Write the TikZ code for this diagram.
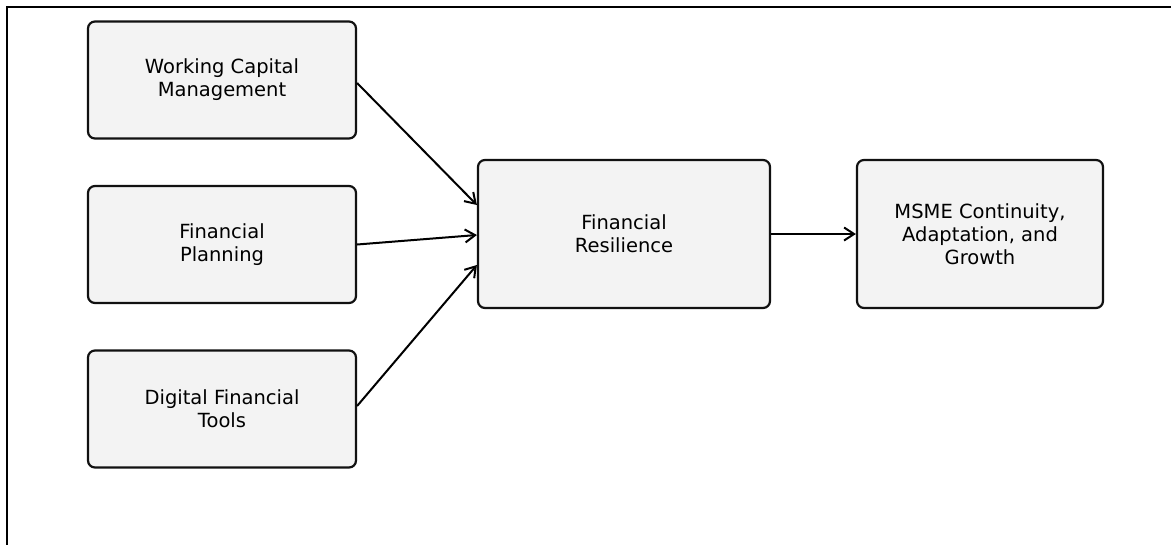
\documentclass[tikz,border=0pt]{standalone}
\usepackage{fontspec}
\setmainfont{DejaVu Sans}
\usetikzlibrary{arrows.meta}
\definecolor{boxfill}{HTML}{F3F3F3}
\definecolor{boxline}{HTML}{111111}
\begin{document}
\begin{tikzpicture}[x=1pt,y=-1pt,
  box/.style={draw=boxline, fill=boxfill, line width=2.2pt, rounded corners=7pt,
    align=center, inner sep=0pt, font=\fontsize{19.5}{23}\selectfont},
  conn/.style={line width=2pt, draw=black, -{Straight Barb[length=10pt,width=13pt,line width=2pt]}}]
\useasboundingbox (0,0) rectangle (1171,544);
\draw[line width=1.5pt, line cap=rect] (7,544) -- (7,7) -- (1171,7);
\node[box, minimum width=268pt, minimum height=117pt] (wcm) at (222,80) {Working Capital\\Management};
\node[box, minimum width=268pt, minimum height=117pt] (fp) at (222,244.5) {Financial\\Planning};
\node[box, minimum width=268pt, minimum height=117pt] (dft) at (222,409) {Digital Financial\\Tools};
\node[box, minimum width=292pt, minimum height=148pt] (fr) at (624,234) {Financial\\Resilience};
\node[box, minimum width=246pt, minimum height=148pt] (msme) at (980,234) {MSME Continuity,\\Adaptation, and\\Growth};
\draw[conn] ([yshift=-3pt]wcm.east) -- ([yshift=29pt]fr.west);
\draw[conn] (fp.east) -- ([yshift=-1pt]fr.west);
\draw[conn] ([yshift=3pt]dft.east) -- ([yshift=-31pt]fr.west);
\draw[conn] (fr.east) -- (msme.west);
\end{tikzpicture}
\end{document}
